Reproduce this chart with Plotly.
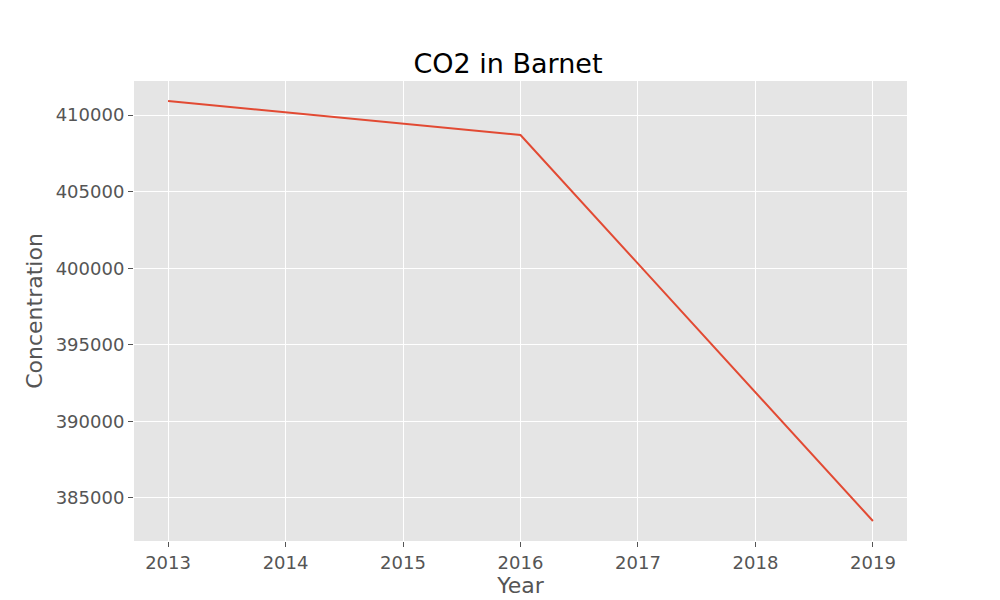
import plotly.graph_objects as go

years = [2013, 2014, 2015, 2016, 2017, 2018, 2019]
concentration = [410914, 410174, 409434, 408694, 400295, 391895, 383496]

fig = go.Figure()
fig.add_trace(go.Scatter(x=years, y=concentration, mode="lines",
                         line=dict(color="#E24A33", width=2)))

fig.update_layout(
    width=1000, height=600,
    margin=dict(l=126, r=101, t=73, b=67, autoexpand=False),
    plot_bgcolor="#E5E5E5", paper_bgcolor="white",
    font=dict(family="DejaVu Sans", color="#555555"),
    showlegend=False,
    title=dict(text="CO2 in Barnet", x=0.5, xanchor="center", y=0.908, yanchor="middle",
               font=dict(size=27, color="black")),
)
fig.update_xaxes(range=[2012.71, 2019.29], tickvals=years, gridcolor="white", gridwidth=1,
                 zeroline=False, ticks="outside", ticklen=5, tickcolor="#555555", automargin=False,
                 tickfont=dict(size=18, color="#555555"),
                 title=dict(text="Year", font=dict(size=22, color="#555555"), standoff=4))
fig.update_yaxes(range=[382190, 412220], tickvals=[385000, 390000, 395000, 400000, 405000, 410000],
                 tickformat="d", gridcolor="white", gridwidth=1, zeroline=False, automargin=False,
                 ticks="outside", ticklen=5, tickcolor="#555555",
                 tickfont=dict(size=18, color="#555555"),
                 title=dict(text="Concentration", font=dict(size=22, color="#555555"), standoff=6))

fig.write_html("out.html")
